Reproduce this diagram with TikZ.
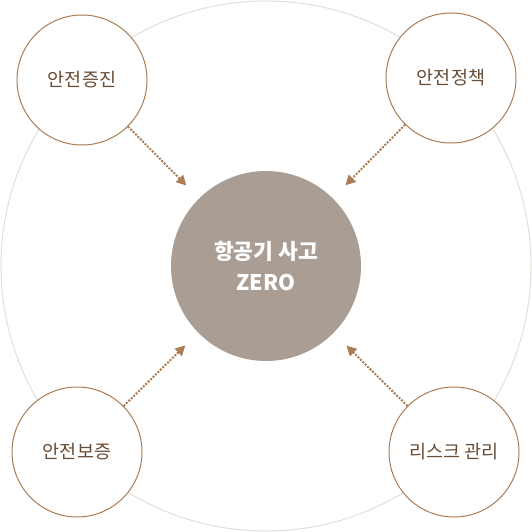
\documentclass[tikz,border=0pt]{standalone}
\usepackage{xcolor}
\usepackage{fontspec}
\newfontfamily\cjk{Noto Sans CJK KR}
\usetikzlibrary{arrows.meta}
\definecolor{ringgray}{HTML}{E2DEDA}
\definecolor{edgebrown}{HTML}{AB7D55}
\definecolor{textbrown}{HTML}{6A4D36}
\definecolor{coregray}{HTML}{A99D94}

\begin{document}
\begin{tikzpicture}[x=1pt, y=-1pt,
  goal/.style={draw=edgebrown, line width=1pt, fill=white, circle, minimum size=130pt, inner sep=0pt, text=textbrown, font=\cjk\fontsize{18.5}{22}\selectfont},
  core/.style={fill=coregray, circle, minimum size=190pt, inner sep=0pt, text=white, align=center, font=\cjk\bfseries\fontsize{21.5}{31}\selectfont},
  flow/.style={draw=edgebrown, line width=2pt, dash pattern=on 2pt off 1.4pt, -{Triangle[length=10pt,width=10pt]}, shorten >=18pt}]
\useasboundingbox (0,0) rectangle (532,532);
\draw[ringgray, line width=1pt] (266,266) circle (265);
\node[core] (zero) at (266,266) {항공기 사고\\ZERO};
\node[goal] (promo) at (82,80) {안전증진};
\node[goal] (policy) at (451,78) {안전정책};
\node[goal] (assure) at (77,452) {안전보증};
\node[goal] (risk) at (454,452) {리스크 관리};
\draw[flow] (promo) -- (zero);
\draw[flow] (policy) -- (zero);
\draw[flow] (assure) -- (zero);
\draw[flow] (risk) -- (zero);
\end{tikzpicture}
\end{document}
